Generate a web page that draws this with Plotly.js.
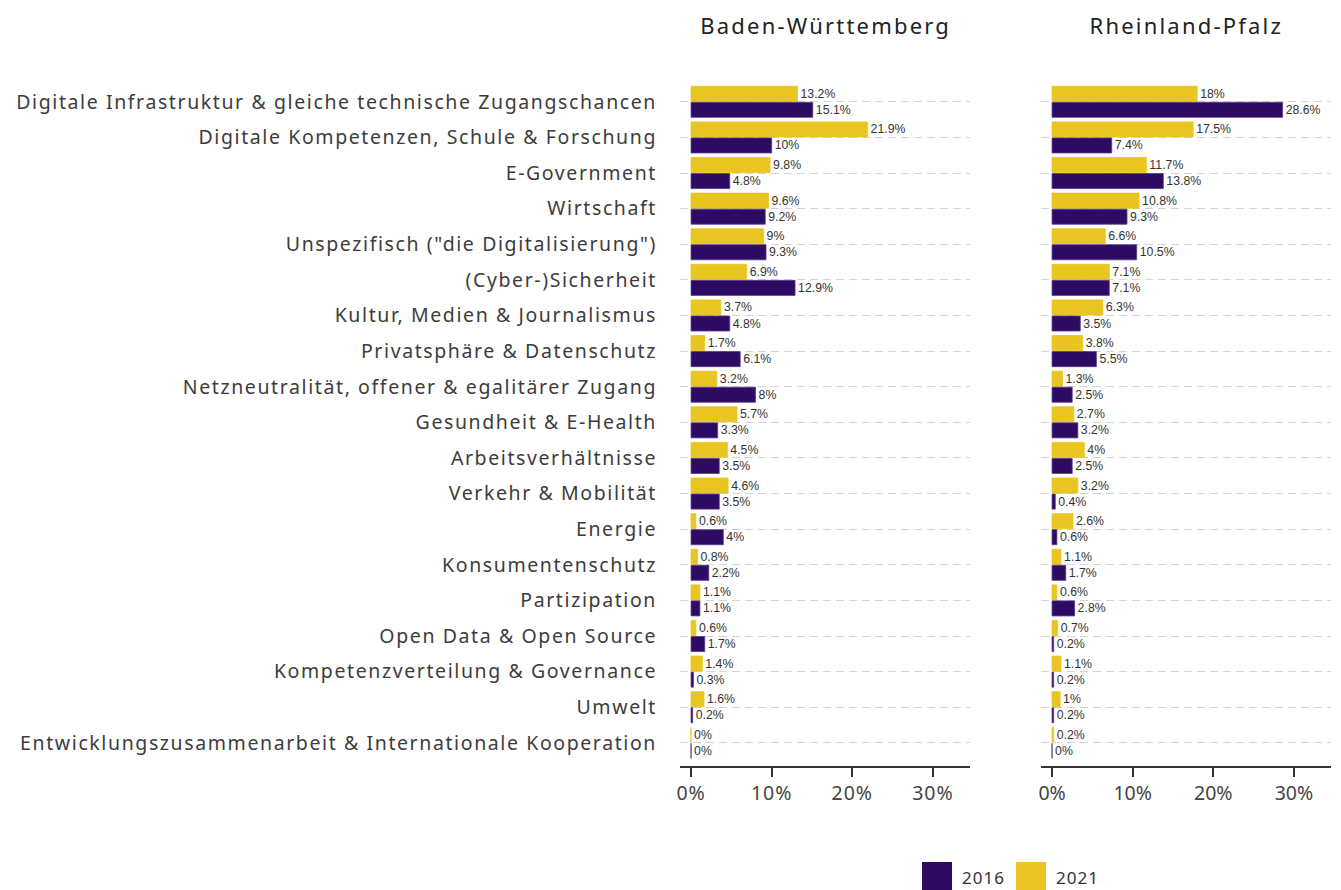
<!DOCTYPE html>
<html><head><meta charset="utf-8">
<script src="https://cdn.plot.ly/plotly-3.0.1.min.js"></script>
<style>
html,body{margin:0;padding:0;background:#fff;}
#chart .ytick text{letter-spacing:1.6px;}
#chart .xtick text{letter-spacing:1px;}
#chart .annotation[data-index="0"] text,#chart .annotation[data-index="1"] text{letter-spacing:2.2px;}
#chart .annotation[data-index="2"] text,#chart .annotation[data-index="3"] text{letter-spacing:1px;}
</style>
</head><body><div id="chart" style="width:1341px;height:890px;"></div>
<script>
const categories = [
  "Digitale Infrastruktur & gleiche technische Zugangschancen",
  "Digitale Kompetenzen, Schule & Forschung",
  "E-Government",
  "Wirtschaft",
  "Unspezifisch (\"die Digitalisierung\")",
  "(Cyber-)Sicherheit",
  "Kultur, Medien & Journalismus",
  "Privatsphäre & Datenschutz",
  "Netzneutralität, offener & egalitärer Zugang",
  "Gesundheit & E-Health",
  "Arbeitsverhältnisse",
  "Verkehr & Mobilität",
  "Energie",
  "Konsumentenschutz",
  "Partizipation",
  "Open Data & Open Source",
  "Kompetenzverteilung & Governance",
  "Umwelt",
  "Entwicklungszusammenarbeit & Internationale Kooperation"
];
const bw2021 = [13.2, 21.9, 9.8, 9.6, 9, 6.9, 3.7, 1.7, 3.2, 5.7, 4.5, 4.6, 0.6, 0.8, 1.1, 0.6, 1.4, 1.6, 0];
const bw2016 = [15.1, 10, 4.8, 9.2, 9.3, 12.9, 4.8, 6.1, 8, 3.3, 3.5, 3.5, 4, 2.2, 1.1, 1.7, 0.3, 0.2, 0];
const rp2021 = [18, 17.5, 11.7, 10.8, 6.6, 7.1, 6.3, 3.8, 1.3, 2.7, 4, 3.2, 2.6, 1.1, 0.6, 0.7, 1.1, 1, 0.2];
const rp2016 = [28.6, 7.4, 13.8, 9.3, 10.5, 7.1, 3.5, 5.5, 2.5, 3.2, 2.5, 0.4, 0.6, 1.7, 2.8, 0.2, 0.2, 0.2, 0];
const panelTitles = ["Baden-Württemberg", "Rheinland-Pfalz"];
const years = ["2016", "2021"];
const xTicks = [0, 10, 20, 30];

const C2016 = "#2e0b62", C2021 = "#e8c520";
const txtFont = {family: "Liberation Sans, Arial, sans-serif", size: 12.3, color: "#333"};
function tr(vals, name, color, xa, ya, show) {
  return {
    type: "bar", orientation: "h", x: vals, y: categories, name: name,
    xaxis: xa, yaxis: ya, showlegend: show,
    marker: {color: color, line: {color: color === C2016 ? "#5b3a8c" : color, width: 0.8}},
    text: vals.map(v => v + "%"), textposition: "outside", cliponaxis: false,
    textfont: txtFont, hoverinfo: "x+y+name"
  };
}
const data = [
  tr(bw2021, years[1], C2021, "x", "y", true),
  tr(bw2016, years[0], C2016, "x", "y", true),
  tr(rp2021, years[1], C2021, "x2", "y2", false),
  tr(rp2016, years[0], C2016, "x2", "y2", false)
];
const W = 1341, H = 890;
const yDom = [1 - 766 / H, 1 - 84 / H];
const xBase = {
  range: [-1.37, 34.6], tickvals: xTicks, ticktext: xTicks.map(v => v + "%"),
  showgrid: false, zeroline: false, showline: true, linecolor: "#333", linewidth: 1.5,
  ticks: "outside", ticklen: 9, tickwidth: 1.5, tickcolor: "#333",
  tickfont: {family: "Noto Sans, sans-serif", size: 19.5, color: "#444"},
  fixedrange: true
};
const yBase = {
  type: "category", range: [18.65, -0.5], domain: yDom,
  showgrid: true, gridcolor: "#d4d4d4", griddash: "8px,5px", gridwidth: 1.2,
  zeroline: false, showline: false, ticks: "", fixedrange: true,
  tickfont: {family: "Noto Sans, sans-serif", size: 19.5, color: "#3c3c3c"},
  ticklabelstandoff: 22
};
const layout = {
  width: W, height: H, margin: {l: 0, r: 0, t: 0, b: 0},
  paper_bgcolor: "#fff", plot_bgcolor: "#fff",
  barmode: "group", bargap: 0.1, bargroupgap: 0.06,
  showlegend: false,
  xaxis: Object.assign({}, xBase, {domain: [680 / W, 970 / W], anchor: "y"}),
  xaxis2: Object.assign({}, xBase, {domain: [1041 / W, 1331 / W], anchor: "y2"}),
  yaxis: Object.assign({}, yBase, {anchor: "x"}),
  yaxis2: Object.assign({}, yBase, {anchor: "x2", showticklabels: false}),
  annotations: [
    {text: panelTitles[0], xref: "paper", yref: "paper", x: 825 / W, y: 1 - 25 / H, xanchor: "center", yanchor: "middle", showarrow: false, font: {family: "Noto Sans, sans-serif", size: 22, color: "#222"}},
    {text: panelTitles[1], xref: "paper", yref: "paper", x: 1186 / W, y: 1 - 25 / H, xanchor: "center", yanchor: "middle", showarrow: false, font: {family: "Noto Sans, sans-serif", size: 22, color: "#222"}},
    {text: years[0], xref: "paper", yref: "paper", x: 962 / W, y: 1 - 877 / H, xanchor: "left", yanchor: "middle", showarrow: false, font: {family: "Noto Sans, sans-serif", size: 17, color: "#333"}},
    {text: years[1], xref: "paper", yref: "paper", x: 1056 / W, y: 1 - 877 / H, xanchor: "left", yanchor: "middle", showarrow: false, font: {family: "Noto Sans, sans-serif", size: 17, color: "#333"}}
  ],
  shapes: [
    {type: "rect", xref: "paper", yref: "paper", x0: 922 / W, x1: 952 / W, y0: 1 - 892 / H, y1: 1 - 862 / H, fillcolor: C2016, line: {width: 0}},
    {type: "rect", xref: "paper", yref: "paper", x0: 1016 / W, x1: 1046 / W, y0: 1 - 892 / H, y1: 1 - 862 / H, fillcolor: C2021, line: {width: 0}}
  ]
};
Plotly.newPlot("chart", data, layout, {displayModeBar: false, responsive: false});
</script></body></html>
